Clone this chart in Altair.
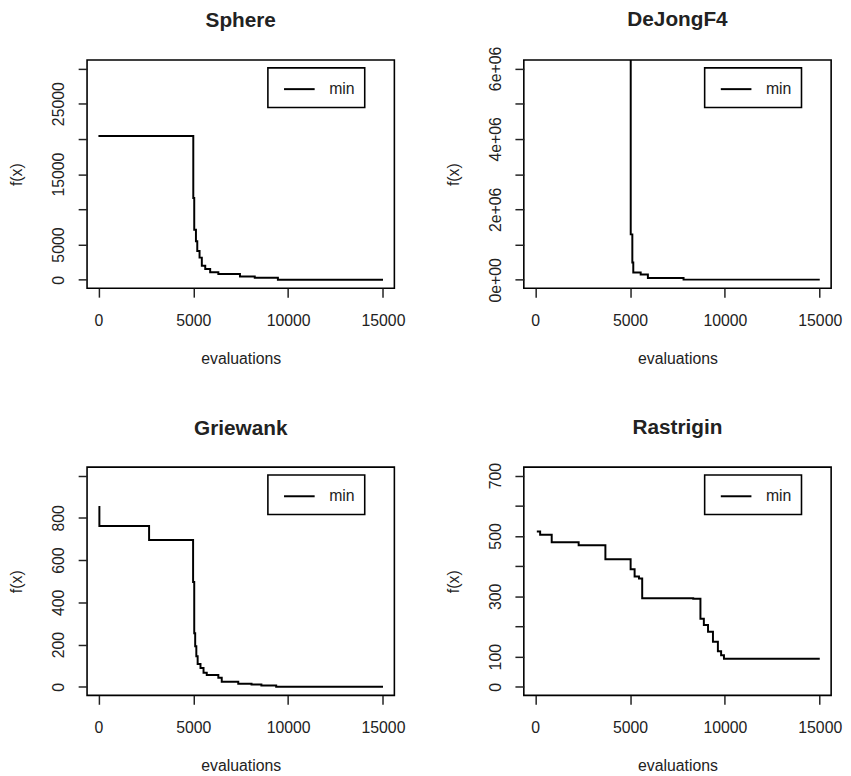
import altair as alt
import pandas as pd

# ---------------- data ----------------
x_ticks = [0, 5000, 10000, 15000]

sphere_x = [0, 5000, 5050, 5140, 5210, 5330, 5450, 5630, 5890, 6320, 7460, 8240, 9460, 15000]
sphere_y = [20400, 11600, 7100, 5470, 4080, 3150, 2000, 1530, 1060, 830, 460, 280, 20, 20]
sphere_ticks = [0, 5000, 10000, 15000, 20000, 25000, 30000]
sphere_labels = {0: "0", 5000: "5000", 15000: "15000", 25000: "25000"}

dejong_x = [0, 5035, 5120, 5170, 5560, 5940, 7820, 15000]
dejong_y = [9.0e6, 1.29e6, 0.49e6, 0.21e6, 0.15e6, 0.05e6, 0.005e6, 0.005e6]
dejong_ticks = [0, 1e6, 2e6, 3e6, 4e6, 5e6, 6e6]
dejong_labels = {0: "0e+00", 2e6: "2e+06", 4e6: "4e+06", 6e6: "6e+06"}

griewank_x = [0, 50, 2670, 4990, 5050, 5100, 5160, 5230, 5380, 5540, 5710, 6320, 6500,
              7370, 8070, 8590, 9370, 15000]
griewank_y = [851, 761, 695, 496, 254, 192, 145, 109, 90, 67, 56, 43, 25, 15, 12, 7, 1, 1]
griewank_ticks = [0, 200, 400, 600, 800, 1000]
griewank_labels = {0: "0", 200: "200", 400: "400", 600: "600", 800: "800"}

rastrigin_x = [85, 260, 870, 2290, 3700, 5030, 5240, 5470, 5640, 8330, 8710, 8890, 9110,
               9370, 9630, 9800, 9950, 15000]
rastrigin_y = [515, 504, 479, 469, 423, 390, 366, 359, 294, 292, 226, 205, 183, 150, 118,
               105, 93, 93]
rastrigin_ticks = [0, 100, 200, 300, 400, 500, 600, 700]
rastrigin_labels = {0: "0", 100: "100", 300: "300", 500: "500", 700: "700"}

# title shift compensating for tick labels that poke above the plot box
panels = [
    ("Sphere", sphere_x, sphere_y, [-1200, 31200], sphere_ticks, sphere_labels, 0),
    ("DeJongF4", dejong_x, dejong_y, [-240000, 6240000], dejong_ticks, dejong_labels, 13),
    ("Griewank", griewank_x, griewank_y, [-40, 1040], griewank_ticks, griewank_labels, 0),
    ("Rastrigin", rastrigin_x, rastrigin_y, [-28, 728], rastrigin_ticks, rastrigin_labels, 4),
]

FONT = "Liberation Sans"
TXT = "#222222"


def label_expr(labels):
    expr = "''"
    for v, s in reversed(list(labels.items())):
        expr = f"datum.value == {v:.0f} ? '{s}' : ({expr})"
    return expr


def panel(title, xs, ys, ydom, yticks, ylabels, tdy):
    df = pd.DataFrame({"evaluations": xs, "f": ys, "series": ["min"] * len(xs)})
    return (
        alt.Chart(df, title=alt.TitleParams(
            title, anchor="middle", frame="group", baseline="alphabetic", offset=12,
            dy=tdy, font=FONT, fontSize=21, fontWeight="bold", color=TXT))
        .mark_line(interpolate="step-after", clip=True, strokeWidth=2, color="black")
        .encode(
            x=alt.X("evaluations:Q",
                    scale=alt.Scale(domain=[-600, 15600], nice=False, zero=False),
                    axis=alt.Axis(values=x_ticks, format="d", title="evaluations",
                                  labelAngle=0, labelBaseline="top", labelPadding=16,
                                  titleY=76, titleBaseline="alphabetic")),
            y=alt.Y("f:Q",
                    scale=alt.Scale(domain=ydom, nice=False, zero=False),
                    axis=alt.Axis(values=yticks, labelExpr=label_expr(ylabels),
                                  labelOverlap=False, labelAngle=-90, labelAlign="center",
                                  labelBaseline="alphabetic", labelPadding=15,
                                  title="f(x)", titleX=-66, titleBaseline="alphabetic")),
            color=alt.Color("series:N",
                            scale=alt.Scale(domain=["min"], range=["black"]),
                            legend=alt.Legend(title=None, orient="none", legendX=183,
                                              legendY=8, symbolType="M-0.5,0H2.5",
                                              symbolSize=427, symbolStrokeWidth=2,
                                              symbolStrokeColor="black",
                                              labelOffset=29, labelFontSize=16,
                                              labelFont=FONT, labelColor=TXT,
                                              padding=10, strokeColor="black",
                                              fillColor="white")),
        )
        .properties(width=311, height=231)
    )


charts = [panel(*p) for p in panels]
chart = (
    alt.concat(*charts, columns=2, spacing={"row": 181, "column": 131}, bounds="flush")
    .resolve_scale(color="independent")
    .properties(padding={"left": 0, "top": -4, "right": 0, "bottom": 0})
    .configure_view(stroke="black", strokeWidth=1.6)
    .configure_axis(domain=False, grid=False, ticks=True, tickColor=TXT, tickWidth=1.5,
                    tickSize=9, labelFont=FONT, labelFontSize=16, labelColor=TXT,
                    titleFont=FONT, titleFontSize=16, titleFontWeight="normal",
                    titleColor=TXT)
    .configure_legend(strokeWidth=1.6)
)

chart.save("out.html", embed_options={"renderer": "svg", "actions": False})
